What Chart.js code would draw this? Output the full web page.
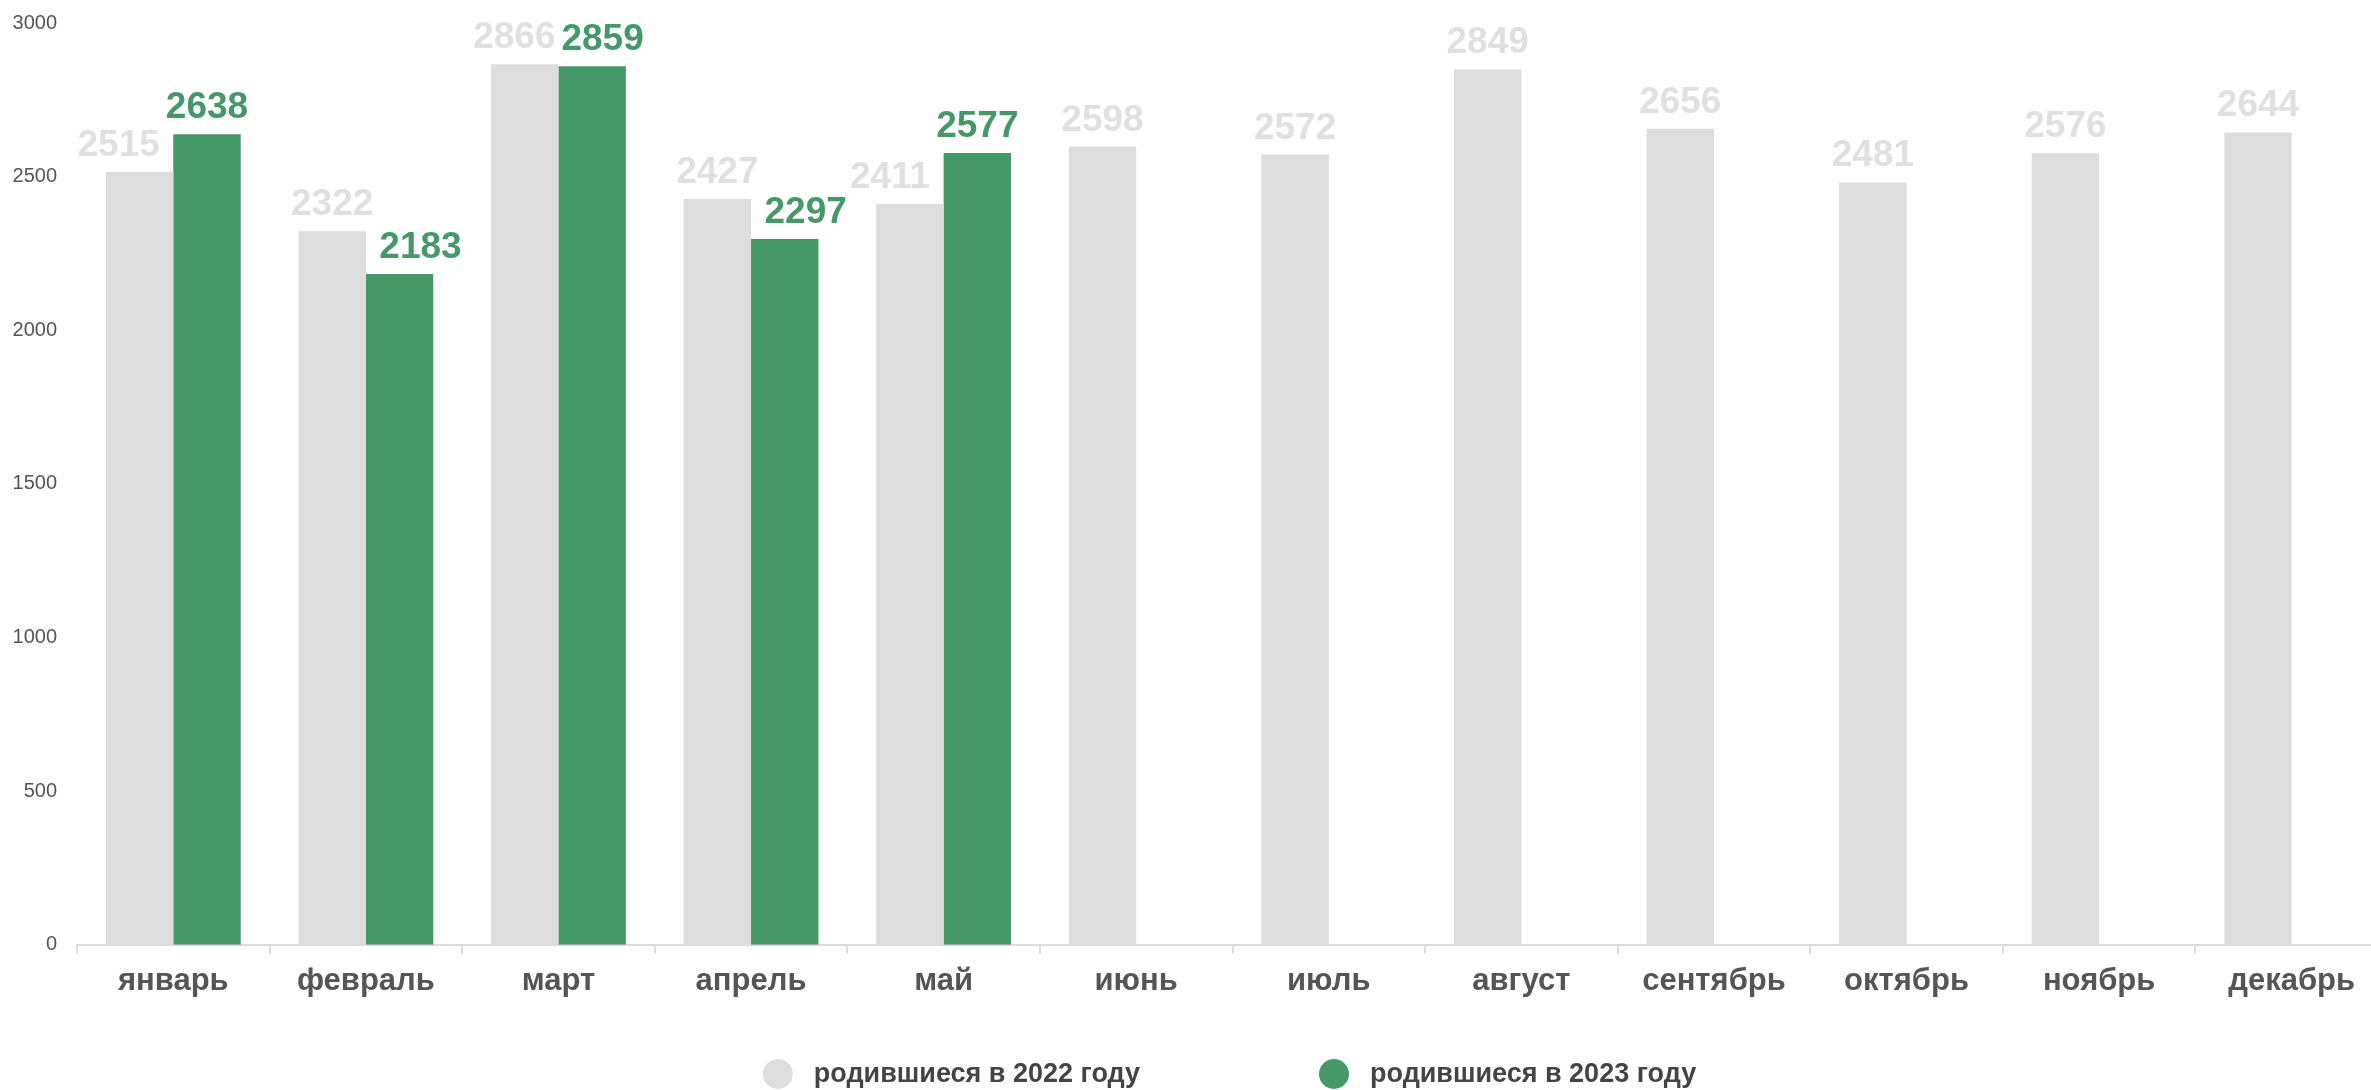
<!DOCTYPE html>
<html>
<head>
<meta charset="utf-8">
<script src="https://cdn.jsdelivr.net/npm/chart.js@4.4.1/dist/chart.umd.min.js"></script>
<style>
html, body { margin: 0; padding: 0; overflow: hidden; background: #ffffff; width: 2371px; height: 1090px; }
#wrap { position: relative; width: 2388px; height: 1090px; }
</style>
</head>
<body>
<div id="wrap"><canvas id="chart"></canvas></div>
<script>
const months = ['январь', 'февраль', 'март', 'апрель', 'май', 'июнь', 'июль', 'август', 'сентябрь', 'октябрь', 'ноябрь', 'декабрь'];
const seriesNames = ['родившиеся в 2022 году', 'родившиеся в 2023 году'];
const births2022 = [2515, 2322, 2866, 2427, 2411, 2598, 2572, 2849, 2656, 2481, 2576, 2644];
const births2023 = [2638, 2183, 2859, 2297, 2577, null, null, null, null, null, null, null];
const yTickValues = [0, 500, 1000, 1500, 2000, 2500, 3000];

const FONT = '"Liberation Sans", Arial, Helvetica, sans-serif';
const barColors = ['#dddddd', '#459867'];
const labelColors = ['#e0e0e0', '#459867'];

const valueLabels = {
  id: 'valueLabels',
  afterDatasetsDraw(chart) {
    const ctx = chart.ctx;
    ctx.save();
    ctx.font = 'bold 37px ' + FONT;
    ctx.textAlign = 'center';
    ctx.textBaseline = 'alphabetic';
    const metas = [chart.getDatasetMeta(0), chart.getDatasetMeta(1)];
    const gap = 6, lift = 16;
    chart.data.labels.forEach((_, i) => {
      const items = [];
      metas.forEach((meta, d) => {
        const v = chart.data.datasets[d].data[i];
        const el = meta.data[i];
        if (v == null || !el) return;
        const text = String(v);
        items.push({ x: el.x, y: el.y, v, d, text, w: ctx.measureText(text).width });
      });
      if (items.length === 2) {
        const a = items[0], b = items[1];
        const need = (a.w / 2 + b.w / 2 + gap) - (b.x - a.x);
        if (need > 0) {
          const rel = Math.abs(b.v - a.v) / Math.max(a.v, b.v);
          if (rel < 0.02) { a.x -= need / 2; b.x += need / 2; }
          else if (a.v < b.v) { a.x -= need; }
          else { b.x += need; }
        }
      }
      items.forEach(it => {
        ctx.fillStyle = labelColors[it.d];
        ctx.fillText(it.text, it.x, it.y - lift);
      });
    });
    ctx.restore();
  }
};

const bottomLegend = {
  id: 'bottomLegend',
  afterDraw(chart) {
    const ctx = chart.ctx;
    ctx.save();
    ctx.font = 'bold 27px ' + FONT;
    ctx.textBaseline = 'middle';
    ctx.textAlign = 'left';
    const d = 30, gapText = 21, gapItem = 179, cy = 1074;
    const widths = chart.data.datasets.map(ds => ctx.measureText(ds.label).width);
    let total = 0;
    widths.forEach((w, i) => { total += d + gapText + w + (i < widths.length - 1 ? gapItem : 0); });
    const center = (chart.chartArea.left + chart.chartArea.right) / 2 - 3;
    let x = center - total / 2;
    chart.data.datasets.forEach((ds, i) => {
      ctx.fillStyle = ds.backgroundColor;
      ctx.beginPath();
      ctx.arc(x + d / 2, cy, d / 2, 0, Math.PI * 2);
      ctx.fill();
      ctx.fillStyle = '#444444';
      ctx.fillText(ds.label, x + d + gapText, cy + 1);
      x += d + gapText + widths[i] + gapItem;
    });
    ctx.restore();
  }
};

new Chart(document.getElementById('chart'), {
  type: 'bar',
  data: {
    labels: months,
    datasets: [
      { label: seriesNames[0], data: births2022, backgroundColor: barColors[0], borderWidth: 0, categoryPercentage: 0.7, barPercentage: 1.0 },
      { label: seriesNames[1], data: births2023, backgroundColor: barColors[1], borderWidth: 0, categoryPercentage: 0.7, barPercentage: 1.0 }
    ]
  },
  options: {
    responsive: true,
    maintainAspectRatio: false,
    animation: false,
    layout: { padding: { left: 12, top: 23, right: 0, bottom: 81 } },
    plugins: { legend: { display: false }, tooltip: { enabled: false } },
    scales: {
      x: {
        grid: { display: true, drawOnChartArea: false, drawTicks: true, tickLength: 9, color: '#dddddd', lineWidth: 2, offset: true },
        border: { display: true, color: '#dddddd', width: 2 },
        ticks: { color: '#555555', font: { family: FONT, size: 31, weight: 'bold' }, padding: 9, maxRotation: 0, autoSkip: false }
      },
      y: {
        min: 0, max: 3000,
        afterBuildTicks(scale) { scale.ticks = yTickValues.map(v => ({ value: v })); },
        afterFit(scale) { scale.width = 65; scale.paddingTop = 0; scale.paddingBottom = 0; },
        grid: { display: false, drawTicks: false },
        border: { display: false },
        ticks: { color: '#555555', font: { family: FONT, size: 20 }, padding: 20, callback: v => String(v) }
      }
    }
  },
  plugins: [valueLabels, bottomLegend]
});
</script>
</body>
</html>
